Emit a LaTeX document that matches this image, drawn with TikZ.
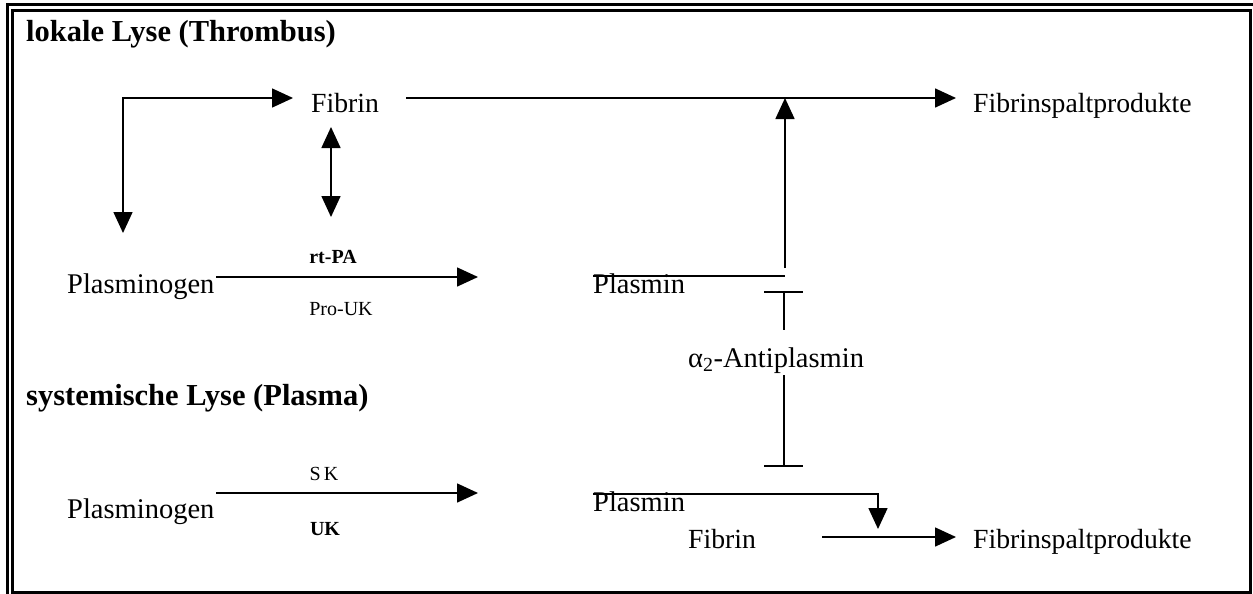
\documentclass[tikz,border=0pt]{standalone}
\usepackage{fontspec}
\setmainfont{Liberation Serif}
\usetikzlibrary{arrows.meta}
\begin{document}
\begin{tikzpicture}[x=1pt,y=-1pt,
  lbl/.style={inner sep=0pt, anchor=base west, font=\fontsize{28.5}{32}\selectfont},
  lblf/.style={inner sep=0pt, anchor=base west, font=\fontsize{27.7}{32}\selectfont},
  ttl/.style={inner sep=0pt, anchor=base west, font=\fontsize{30.5}{34}\selectfont\bfseries},
  sml/.style={inner sep=0pt, anchor=base, font=\fontsize{20}{24}\selectfont},
  smlb/.style={sml, font=\fontsize{20}{24}\selectfont\bfseries},
  con/.style={line width=1.6pt},
  arr/.style={con, -{Triangle[length=21pt,width=19pt]}},
  darr/.style={con, {Triangle[length=21pt,width=19pt]}-{Triangle[length=21pt,width=19pt]}},
  frm/.style={line width=3pt}]
\useasboundingbox (0,0) rectangle (1253,594);
% frame
\draw[frm] (12,10.5) rectangle (1250.5,592);
\draw[frm] (7,594) -- (7,5) -- (1253,5);
% nodes
\node[ttl] (t1) at (26,42) {lokale Lyse (Thrombus)};
\node[lblf] (fib1) at (311,112) {Fibrin};
\node[lblf] (fsp1) at (973,112) {Fibrinspaltprodukte};
\node[lbl] (plg1) at (67,293) {Plasminogen};
\node[smlb] (rtpa) at (333,263) {rt-PA};
\node[sml] (prouk) at (341,315) {Pro-UK};
\node[lbl] (pl1) at (593,293) {Plasmin};
\node[lbl] (a2ap) at (688,367) {α\textsubscript{2}-Antiplasmin};
\node[ttl] (t2) at (26,405) {systemische Lyse (Plasma)};
\node[lbl] (plg2) at (67,518) {Plasminogen};
\node[sml] (sk) at (324,480) {S\,K};
\node[smlb] (uk) at (325,535) {UK};
\node[lbl] (pl2) at (593,511) {Plasmin};
\node[lblf] (fib2) at (688,548) {Fibrin};
\node[lblf] (fsp2) at (973,548) {Fibrinspaltprodukte};
% coordinates
\coordinate (c1b) at (123,233);
\coordinate (c1) at (123,98);
\coordinate (c1r) at (293,98);
\coordinate (dA) at (331,127);
\coordinate (dB) at (331,217);
\coordinate (f1s) at (406,98);
\coordinate (f1e) at (956,98);
\coordinate (p1s) at (216,277);
\coordinate (p1e) at (478,277);
\coordinate (pl1s) at (593,276);
\coordinate (pl1e) at (785,276);
\coordinate (v1s) at (785,268);
\coordinate (v1e) at (785,98);
\coordinate (b1l) at (764,292);
\coordinate (b1r) at (803,292);
\coordinate (b1c) at (784,292);
\coordinate (a2t) at (784,330);
\coordinate (a2b) at (784,375);
\coordinate (b2c) at (784,466);
\coordinate (b2l) at (764,466);
\coordinate (b2r) at (803,466);
\coordinate (p2s) at (216,493);
\coordinate (p2e) at (478,493);
\coordinate (pl2s) at (593,494);
\coordinate (pl2c) at (878,494);
\coordinate (pl2e) at (878,529);
\coordinate (f2s) at (822,537);
\coordinate (f2e) at (956,537);
% connectors
\draw[darr] (c1b) -- (c1) -- (c1r);
\draw[darr] (dA) -- (dB);
\draw[arr] (f1s) -- (f1e);
\draw[arr] (p1s) -- (p1e);
\draw[con] (pl1s) -- (pl1e);
\draw[arr] (v1s) -- (v1e);
\draw[con] (b1l) -- (b1r);
\draw[con] (b1c) -- (a2t);
\draw[con] (a2b) -- (b2c);
\draw[con] (b2l) -- (b2r);
\draw[arr] (p2s) -- (p2e);
\draw[arr] (pl2s) -- (pl2c) -- (pl2e);
\draw[arr] (f2s) -- (f2e);
\end{tikzpicture}
\end{document}
